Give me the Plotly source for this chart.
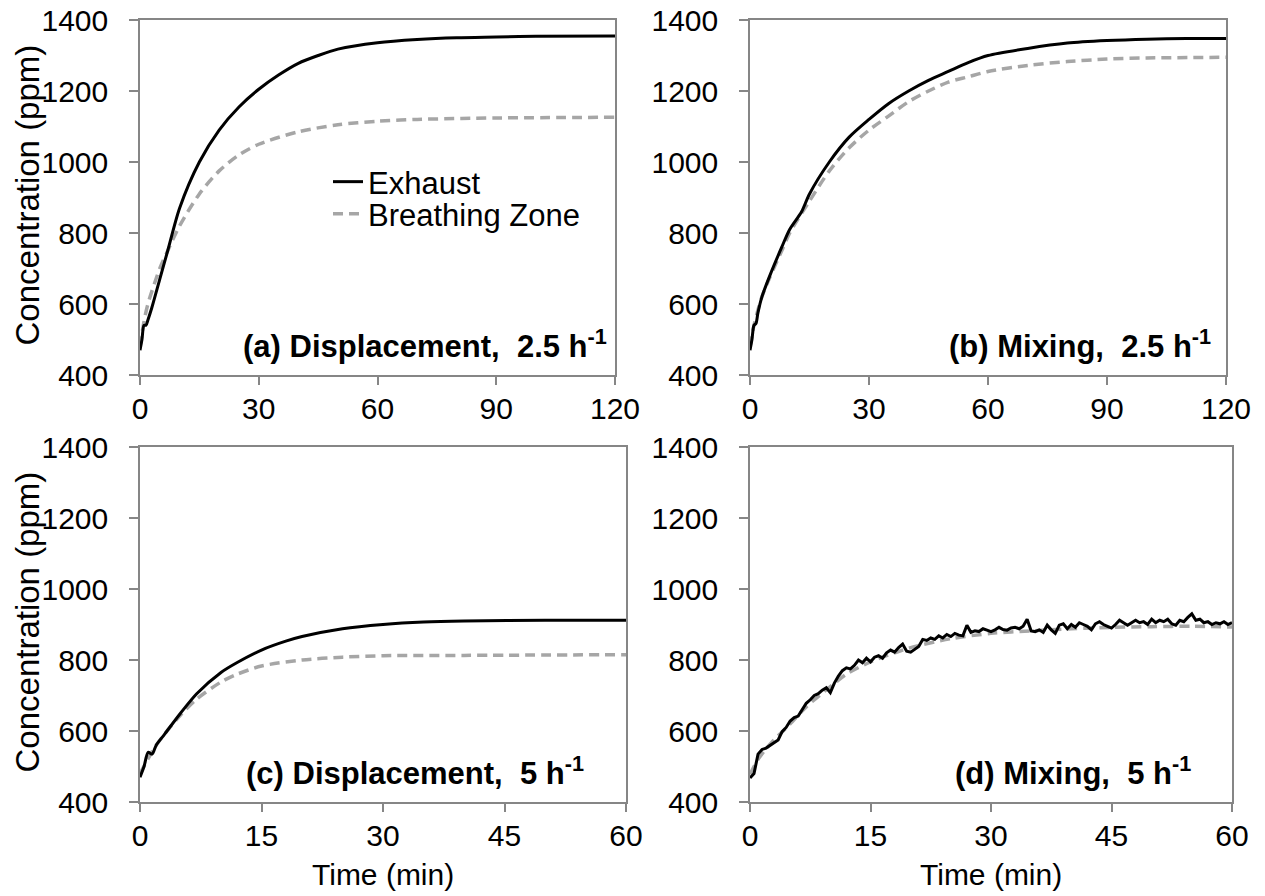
import numpy as np
import plotly.graph_objects as go

# ---------------- data ----------------
# (a) Displacement, 2.5 h-1
t_a_ex = [0, 0.5, 1, 1.5, 2, 3, 5, 7, 10, 15, 20, 25, 30, 35, 40, 45, 50, 60, 70, 80, 90, 100, 120]
c_a_ex = [470, 500, 540, 540, 555, 590, 670, 750, 870, 1000, 1090, 1155, 1205, 1245, 1278, 1300, 1318, 1336, 1345, 1350, 1352, 1354, 1355]
t_a_bz = [0, 1, 2, 5, 7, 10, 15, 20, 25, 30, 40, 50, 60, 70, 90, 120]
c_a_bz = [480, 550, 600, 700, 750, 820, 910, 975, 1020, 1050, 1085, 1105, 1115, 1120, 1124, 1126]

# (b) Mixing, 2.5 h-1
t_b_ex = [0, 0.5, 1, 1.5, 2, 3, 5, 8, 10, 13, 15, 20, 25, 30, 35, 40, 45, 50, 55, 60, 70, 80, 90, 100, 110, 120]
c_b_ex = [470, 500, 540, 545, 575, 620, 680, 760, 810, 860, 910, 1000, 1070, 1120, 1165, 1200, 1230, 1255, 1280, 1300, 1320, 1335, 1342, 1346, 1348, 1348]
t_b_bz = [0, 1, 3, 5, 8, 10, 15, 20, 25, 30, 35, 40, 45, 50, 55, 60, 70, 80, 90, 100, 120]
c_b_bz = [480, 540, 620, 675, 750, 800, 890, 975, 1040, 1090, 1130, 1170, 1200, 1225, 1240, 1255, 1272, 1283, 1290, 1293, 1295]

# (c) Displacement, 5 h-1
t_c_ex = [0, 0.5, 1, 1.5, 2, 3, 5, 7, 10, 12, 15, 18, 20, 25, 30, 35, 40, 50, 60]
c_c_ex = [470, 500, 540, 535, 560, 590, 650, 705, 765, 793, 828, 853, 866, 888, 900, 907, 910, 912, 912]
t_c_bz = [0, 2, 5, 7, 10, 12, 15, 20, 25, 30, 40, 60]
c_c_bz = [480, 560, 645, 690, 738, 760, 783, 800, 808, 812, 813, 815]

# (d) Mixing, 5 h-1 (exhaust sampled every 0.5 min)
t_d_ex = list(np.arange(0, 60.5, 0.5))
c_d_ex = [468, 480, 535, 548, 552, 560, 568, 575, 598, 610, 628, 638, 642, 660, 678, 688, 700, 705, 715, 722,
          708, 735, 755, 770, 778, 775, 785, 800, 792, 805, 795, 808, 812, 805, 820, 828, 822, 835, 845, 825,
          822, 830, 838, 858, 855, 862, 858, 868, 862, 872, 866, 875, 870, 868, 898, 878, 882, 880, 888, 884,
          880, 885, 892, 886, 884, 890, 892, 888, 895, 915, 882, 880, 885, 878, 898, 885, 875, 898, 902, 888,
          900, 892, 905, 900, 895, 885, 902, 908, 900, 895, 890, 900, 912, 905, 898, 905, 912, 905, 908, 900,
          915, 905, 912, 908, 915, 902, 898, 912, 908, 920, 930, 912, 915, 905, 908, 900, 905, 902, 908, 900,
          905]
t_d_bz = [0, 1, 2, 3, 5, 7, 10, 12, 15, 18, 20, 25, 30, 35, 40, 45, 50, 55, 60]
c_d_bz = [478, 520, 550, 575, 620, 668, 725, 760, 795, 820, 835, 860, 875, 882, 888, 892, 894, 895, 893]

panel_labels = ["(a) Displacement,\u00a0 2.5 h<sup>-1</sup>", "(b) Mixing,\u00a0 2.5 h<sup>-1</sup>",
                "(c) Displacement,\u00a0 5 h<sup>-1</sup>", "(d) Mixing,\u00a0 5 h<sup>-1</sup>"]
y_ticks = [400, 600, 800, 1000, 1200, 1400]
x_ticks_top = [0, 30, 60, 90, 120]
x_ticks_bot = [0, 15, 30, 45, 60]

# ---------------- figure ----------------
OFF = 8                      # page body margin in the browser
W, H = 1265 - OFF, 896 - OFF
FONT = "Liberation Sans, Arial, sans-serif"
EX_COLOR = "#000000"
BZ_COLOR = "#A6A6A6"
AX_COLOR = "#868686"


def px(x):
    return (x - OFF) / W


def py(y):
    return 1 - (y - OFF) / H


# panel screen boxes: (x0, x1, ytop, ybottom)
boxes = [(140, 615, 20, 375), (750, 1226, 20, 375), (140, 626, 447, 802), (750, 1232, 447, 802)]

fig = go.Figure()
data = [
    (t_a_ex, c_a_ex, t_a_bz, c_a_bz, True),
    (t_b_ex, c_b_ex, t_b_bz, c_b_bz, True),
    (t_c_ex, c_c_ex, t_c_bz, c_c_bz, True),
    (t_d_ex, c_d_ex, t_d_bz, c_d_bz, False),
]
for i, (tx, cx, tb, cb, smooth_ex) in enumerate(data):
    suffix = "" if i == 0 else str(i + 1)
    fig.add_trace(go.Scatter(x=tb, y=cb, mode="lines", name="Breathing Zone", legend="legend2",
                             line=dict(color=BZ_COLOR, width=3.5, dash="10px,6px", shape="spline", smoothing=0.8),
                             xaxis="x" + suffix, yaxis="y" + suffix, showlegend=(i == 0)))
    fig.add_trace(go.Scatter(x=tx, y=cx, mode="lines", name="Exhaust", legend="legend",
                             line=dict(color=EX_COLOR, width=3, shape="spline" if smooth_ex else "linear",
                                       smoothing=0.8),
                             xaxis="x" + suffix, yaxis="y" + suffix, showlegend=(i == 0)))

leg_common = dict(xanchor="left", yanchor="middle", bgcolor="rgba(0,0,0,0)",
                  font=dict(size=31, color="#000000"), itemwidth=30, borderwidth=0)
layout = dict(width=W, height=H, margin=dict(l=0, r=0, t=0, b=0),
              paper_bgcolor="white", plot_bgcolor="white",
              font=dict(family=FONT, size=30, color="#000000"),
              showlegend=True,
              legend=dict(x=px(328), y=py(182), **leg_common),
              legend2=dict(x=px(328), y=py(214), **leg_common))

annotations = []
label_right = [609, 1213, 586, 1193]
label_y = [344, 344, 771, 771]
for i, (x0, x1, yt, yb) in enumerate(boxes):
    suffix = "" if i == 0 else str(i + 1)
    ticks_x = x_ticks_top if i < 2 else x_ticks_bot
    layout["xaxis" + suffix] = dict(domain=[px(x0), px(x1)], anchor="y" + suffix,
                                    range=[0, ticks_x[-1]], tickvals=ticks_x,
                                    showline=True, linecolor=AX_COLOR, linewidth=1.5, mirror=True,
                                    ticks="outside", ticklen=8, tickcolor=AX_COLOR, tickwidth=1.5,
                                    ticklabelstandoff=-2, ticklabeloverflow="allow",
                                    showgrid=False, zeroline=False, automargin=False,
                                    tickfont=dict(size=30))
    layout["yaxis" + suffix] = dict(domain=[py(yb), py(yt)], anchor="x" + suffix,
                                    range=[400, 1400], tickvals=y_ticks,
                                    showline=True, linecolor=AX_COLOR, linewidth=1.5, mirror=True,
                                    ticks="outside", ticklen=9, tickcolor=AX_COLOR, tickwidth=1.5,
                                    ticklabelstandoff=15, ticklabeloverflow="allow",
                                    showgrid=False, zeroline=False, automargin=False,
                                    tickfont=dict(size=30))
    annotations.append(dict(text="<b>" + panel_labels[i] + "</b>", xref="paper", yref="paper",
                            x=px(label_right[i]), y=py(label_y[i]), xanchor="right", yanchor="middle",
                            showarrow=False, font=dict(size=31, color="#000000")))
    if i in (0, 2):
        annotations.append(dict(text="Concentration (ppm)", xref="paper", yref="paper",
                                x=px(27), y=py((yt + yb) / 2 - 2), xanchor="center", yanchor="middle",
                                textangle=-90, showarrow=False, font=dict(size=33)))
    if i >= 2:
        annotations.append(dict(text="Time (min)", xref="paper", yref="paper",
                                x=px((x0 + x1) / 2), y=py(874), xanchor="center", yanchor="middle",
                                showarrow=False, font=dict(size=30)))

layout["annotations"] = annotations
fig.update_layout(**layout)
fig.write_html("out.html")
